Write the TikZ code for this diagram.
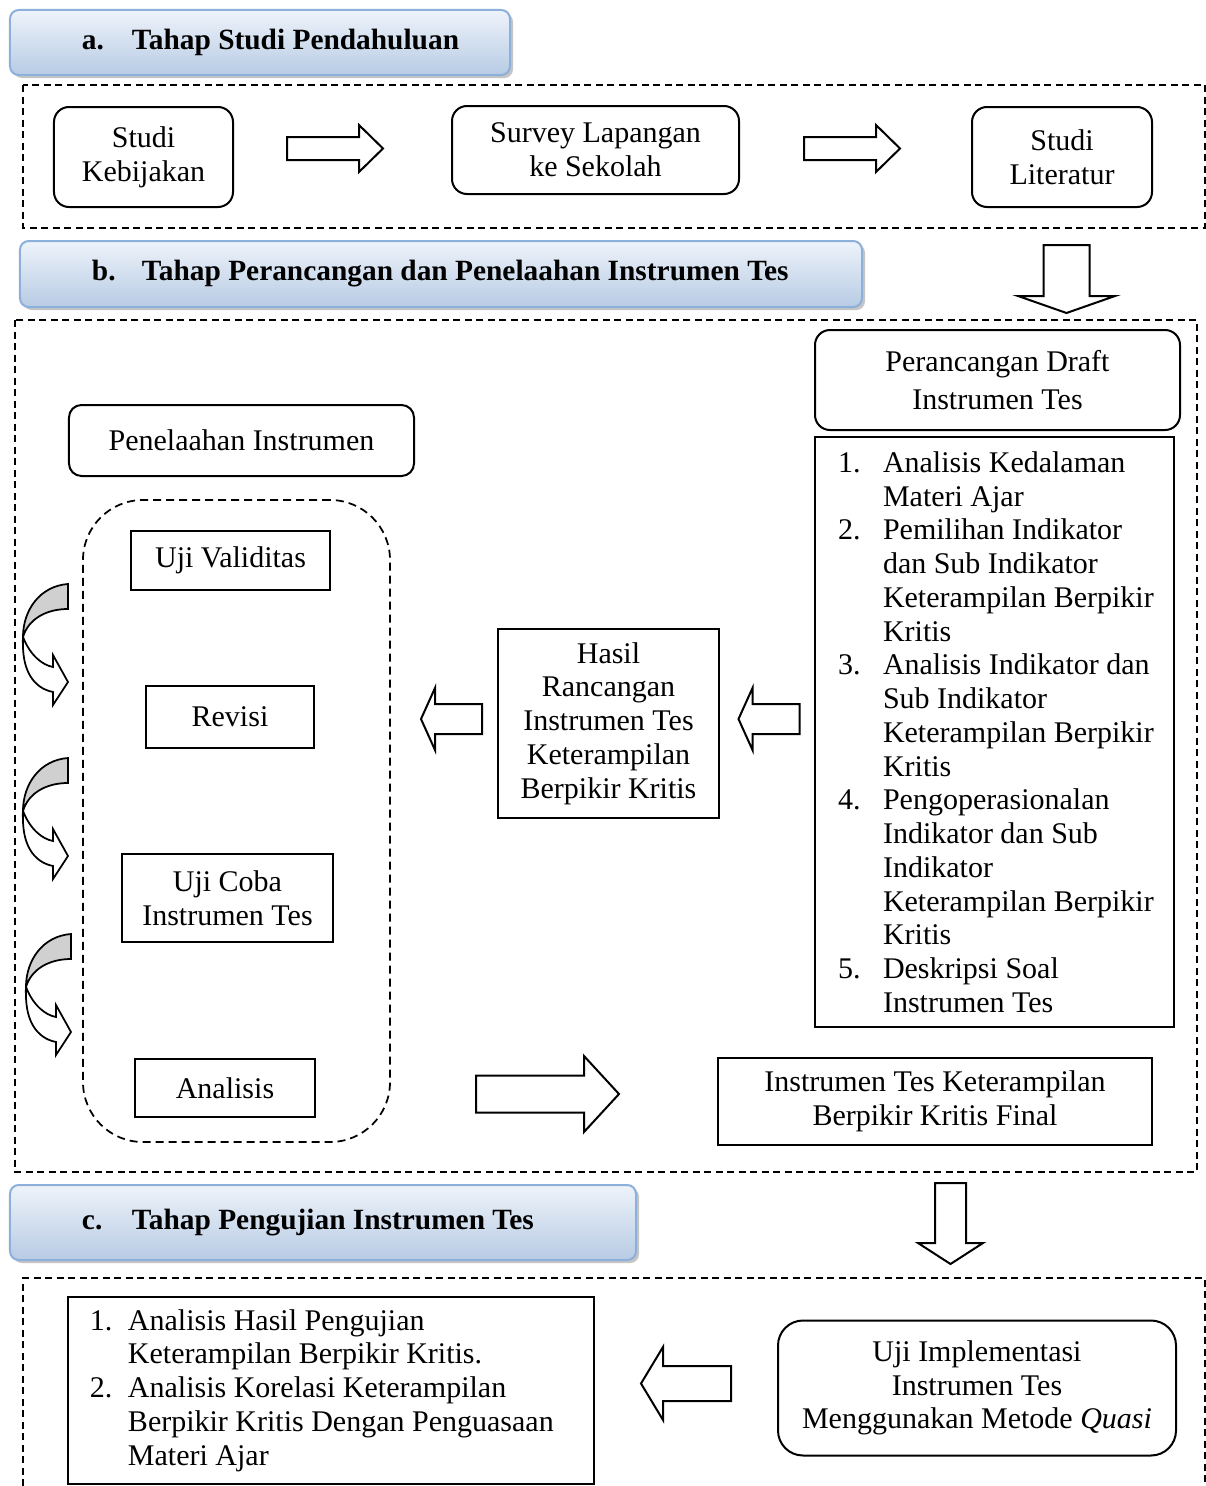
\documentclass[tikz,border=0pt]{standalone}
\usepackage{fontspec}
\setmainfont{Liberation Serif}
\usetikzlibrary{shadows}
\definecolor{hdrtop}{HTML}{EEF3FA}
\definecolor{hdrbot}{HTML}{B7CBE4}
\definecolor{hdrline}{HTML}{8DB0DA}
\definecolor{curlgray}{HTML}{D0D0D0}
\newcommand{\hdrtxt}[3]{\makebox[#1][l]{\textbf{\makebox[20pt][l]{#2}#3}}}
\newcommand{\numline}[3]{\mbox{\makebox[#1][l]{#2}#3}}

\begin{document}
\begin{tikzpicture}[x=0.4pt,y=-0.4pt,
  every node/.style={font=\fontsize{12pt}{13.5pt}\selectfont},
  hdr/.style={draw=hdrline,line width=0.8pt,rounded corners=3.5pt,top color=hdrtop,bottom color=hdrbot,
    font=\fontsize{11.75pt}{13.5pt}\selectfont,
    inner xsep=28.8pt,inner ysep=0pt,drop shadow={shadow xshift=1.2pt,shadow yshift=-1.2pt,fill=black!45}},
  frame/.style={line width=0.6pt,dash pattern=on 2.8pt off 1.8pt},
  rbox/.style={draw,line width=0.8pt,rounded corners=6pt,align=center,inner sep=0pt},
  sbox/.style={draw,line width=0.8pt,align=center,inner sep=0pt},
  lbox/.style={draw,line width=0.8pt,inner ysep=0pt,align=flush left},
  pics/barr/.style n args={4}{code={
    \draw[line width=0.8pt,fill=white] ({-#1/2},{-#2}) -- ({#1/2-#4},{-#2}) -- ({#1/2-#4},{-#3}) -- ({#1/2},0)
      -- ({#1/2-#4},{#3}) -- ({#1/2-#4},{#2}) -- ({-#1/2},{#2}) -- cycle;}},
  curl/.style={line width=0.7pt}]
\useasboundingbox (0,0) rectangle (1206,1486);

% a. studi pendahuluan
\node[hdr,minimum width=200pt,minimum height=26pt] (hdrA) at (260,42.5) {\hdrtxt{142.4pt}{a.}{Tahap Studi Pendahuluan}};
\draw[frame] (23,85) rectangle (1205,228);
\node[rbox,minimum width=71.6pt,minimum height=40pt] (kebijakan) at (143.5,157) {Studi\\Kebijakan};
\node[rbox,minimum width=114.8pt,minimum height=35.2pt] (survey) at (595.5,150) {Survey Lapangan\\ke Sekolah};
\node[rbox,minimum width=72pt,minimum height=40pt] (literatur) at (1062,157) {Studi\\Literatur};
\pic (arrA1) at (335,148.5) {barr={96}{11.5}{23.5}{24}};
\pic (arrA2) at (852,148.5) {barr={96}{11.5}{23.5}{24}};

% b. perancangan dan penelaahan
\node[hdr,minimum width=336.8pt,minimum height=26.4pt] (hdrB) at (441,274) {\hdrtxt{279.2pt}{b.}{Tahap Perancangan dan Penelaahan Instrumen Tes}};
\pic[rotate=-90] (arrB1) at (1066.5,279) {barr={68}{23}{48.5}{17}};
\draw[frame] (15,320) rectangle (1197,1172);

\node[rbox,minimum width=146pt,minimum height=40pt,font=\fontsize{12pt}{15.2pt}\selectfont] (draft) at (997.5,380) {Perancangan Draft\\Instrumen Tes};
\node[lbox,minimum height=236pt,text width=125.2pt,inner xsep=9.2pt] (langkah) at (994.5,732) {%
\numline{18pt}{1.}{Analisis Kedalaman}\\
\numline{18pt}{}{Materi Ajar}\\
\numline{18pt}{2.}{Pemilihan Indikator}\\
\numline{18pt}{}{dan Sub Indikator}\\
\numline{18pt}{}{Keterampilan Berpikir}\\
\numline{18pt}{}{Kritis}\\
\numline{18pt}{3.}{Analisis Indikator dan}\\
\numline{18pt}{}{Sub Indikator}\\
\numline{18pt}{}{Keterampilan Berpikir}\\
\numline{18pt}{}{Kritis}\\
\numline{18pt}{4.}{Pengoperasionalan}\\
\numline{18pt}{}{Indikator dan Sub}\\
\numline{18pt}{}{Indikator}\\
\numline{18pt}{}{Keterampilan Berpikir}\\
\numline{18pt}{}{Kritis}\\
\numline{18pt}{5.}{Deskripsi Soal}\\
\numline{18pt}{}{Instrumen Tes}};

\node[rbox,rounded corners=5pt,minimum width=138pt,minimum height=28.4pt] (penelaahan) at (241.5,440.5) {Penelaahan Instrumen};
\node[draw,line width=0.7pt,dash pattern=on 3.2pt off 2pt,rounded corners=24pt,minimum width=122.8pt,minimum height=256.8pt] (grpUji) at (236.5,821) {};
\node[sbox,minimum width=79.6pt,minimum height=23.6pt] (validitas) at (230.5,560.5) {Uji Validitas};
\node[sbox,minimum width=67.2pt,minimum height=24.8pt] (revisi) at (230,717) {Revisi};
\node[sbox,minimum width=84.4pt,minimum height=35.2pt] (ujicoba) at (227.5,898) {Uji Coba\\Instrumen Tes};
\node[sbox,minimum width=72pt,minimum height=23.2pt] (analisis) at (225,1088) {Analisis};

\foreach \dx/\dy in {0/0,0/174,3/350}{
  \begin{scope}[shift={(\dx,\dy)}]
    \draw[curl,fill=white] (23,637) .. controls (30,655) and (42,665) .. (53,667) -- (53,655) -- (68,682) -- (53,705) -- (53,692) .. controls (33,688) and (23,670) .. (23,645) -- cycle;
    \draw[curl,fill=curlgray] (68,584) .. controls (40,586) and (23,610) .. (23,637) .. controls (28,620) and (45,609) .. (68,609) -- cycle;
  \end{scope}}

\node[sbox,minimum width=88.4pt,minimum height=75.6pt] (hasil) at (608.5,723.5) {Hasil\\Rancangan\\Instrumen Tes\\Keterampilan\\Berpikir Kritis};
\pic[rotate=180] (arrHasil) at (451.5,719) {barr={61}{15}{31}{14}};
\pic[rotate=180] (arrDraft) at (769,719) {barr={61}{15}{31}{14}};

\node[sbox,minimum width=173.6pt,minimum height=34.8pt] (final) at (935,1101) {Instrumen Tes Keterampilan\\Berpikir Kritis Final};
\pic (arrFinal) at (547.5,1094) {barr={143}{18.5}{38}{35}};

% c. pengujian
\node[hdr,minimum width=250.4pt,minimum height=30pt] (hdrC) at (323,1222.5) {\hdrtxt{192.8pt}{c.}{Tahap Pengujian Instrumen Tes}};
\pic[rotate=-90] (arrC1) at (950.5,1223.5) {barr={81}{15.5}{32.5}{21}};
\draw[frame] (23,1486) -- (23,1278) -- (1205,1278) -- (1205,1486);

\node[lbox,minimum height=74.8pt,text width=192.8pt,inner xsep=8.8pt] (hasilUji) at (331,1390.5) {%
\numline{15.2pt}{1.}{Analisis Hasil Pengujian}\\
\numline{15.2pt}{}{Keterampilan Berpikir Kritis.}\\
\numline{15.2pt}{2.}{Analisis Korelasi Keterampilan}\\
\numline{15.2pt}{}{Berpikir Kritis Dengan Penguasaan}\\
\numline{15.2pt}{}{Materi Ajar}};
\pic[rotate=180] (arrUji) at (686,1383.5) {barr={90}{17.5}{36.5}{22}};
\node[rbox,rounded corners=10pt,minimum width=159.2pt,minimum height=54pt] (implementasi) at (977,1388) {Uji Implementasi\\Instrumen Tes\\Menggunakan Metode \textit{Quasi}};
\end{tikzpicture}
\end{document}
